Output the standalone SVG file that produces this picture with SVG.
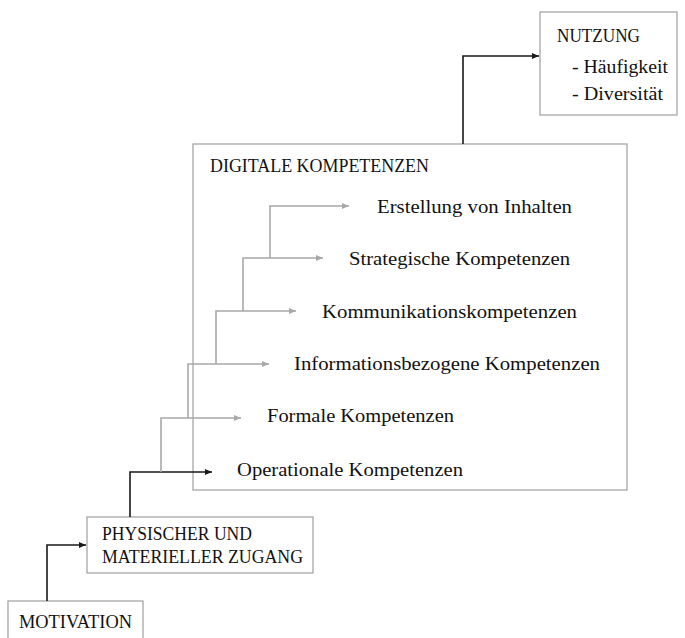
<svg xmlns="http://www.w3.org/2000/svg" width="685" height="638" viewBox="0 0 685 638">
<defs>
<style>
.box{fill:#fff;stroke:#a6a6a6;stroke-width:1.3}
.t{font-family:"Liberation Serif","Times New Roman",serif;font-size:19.5px;fill:#111}
.dk{fill:none;stroke:#1a1a1a;stroke-width:1.6;marker-end:url(#ad)}
.gr{fill:none;stroke:#a8a8a8;stroke-width:1.6;marker-end:url(#ag)}
</style>
<marker id="ad" markerUnits="userSpaceOnUse" markerWidth="8" markerHeight="8" refX="7" refY="4" orient="auto"><path d="M0,1 L7,4 L0,7 Z" fill="#1a1a1a"/></marker>
<marker id="ag" markerUnits="userSpaceOnUse" markerWidth="8" markerHeight="8" refX="7" refY="4" orient="auto"><path d="M0,1 L7,4 L0,7 Z" fill="#a8a8a8"/></marker>
</defs>
<rect width="685" height="638" fill="#fff"/>
<g id="nutzung">
<rect class="box" x="540" y="12" width="137" height="103"/>
<text class="t" x="557" y="42" textLength="83" lengthAdjust="spacingAndGlyphs">NUTZUNG</text>
<text class="t" x="572" y="73" textLength="96" lengthAdjust="spacingAndGlyphs">- Häufigkeit</text>
<text class="t" x="572" y="100" textLength="91" lengthAdjust="spacingAndGlyphs">- Diversität</text>
</g>
<g id="digitale">
<rect class="box" x="193" y="144" width="434" height="346"/>
<text class="t" x="210" y="172" textLength="219" lengthAdjust="spacingAndGlyphs">DIGITALE KOMPETENZEN</text>
</g>
<g id="erstellung"><text class="t" x="377" y="213" textLength="195" lengthAdjust="spacingAndGlyphs">Erstellung von Inhalten</text></g>
<g id="strategische"><text class="t" x="349" y="265" textLength="221" lengthAdjust="spacingAndGlyphs">Strategische Kompetenzen</text></g>
<g id="kommunikation"><text class="t" x="322" y="318" textLength="255" lengthAdjust="spacingAndGlyphs">Kommunikationskompetenzen</text></g>
<g id="informationsbezogene"><text class="t" x="294" y="370" textLength="306" lengthAdjust="spacingAndGlyphs">Informationsbezogene Kompetenzen</text></g>
<g id="formale"><text class="t" x="267" y="422" textLength="187" lengthAdjust="spacingAndGlyphs">Formale Kompetenzen</text></g>
<g id="operationale"><text class="t" x="237" y="476" textLength="226" lengthAdjust="spacingAndGlyphs">Operationale Kompetenzen</text></g>
<g id="physischer">
<rect class="box" x="87" y="517" width="226" height="56"/>
<text class="t" x="102" y="540" textLength="150" lengthAdjust="spacingAndGlyphs">PHYSISCHER UND</text>
<text class="t" x="102" y="563" textLength="201" lengthAdjust="spacingAndGlyphs">MATERIELLER ZUGANG</text>
</g>
<g id="motivation">
<rect class="box" x="8" y="601" width="135" height="50"/>
<text class="t" x="19" y="628" textLength="113" lengthAdjust="spacingAndGlyphs">MOTIVATION</text>
</g>
<g id="connectors">
<path class="dk" d="M47,601 V545 H86"/>
<path class="dk" d="M130,517 V472 H212"/>
<path class="gr" d="M161,472 V418 H241"/>
<path class="gr" d="M188,418 V364 H269"/>
<path class="gr" d="M216,364 V311 H296"/>
<path class="gr" d="M243,311 V258 H323"/>
<path class="gr" d="M270,258 V206 H349"/>
<path class="dk" d="M463,144 V56 H539"/>
</g>
</svg>
